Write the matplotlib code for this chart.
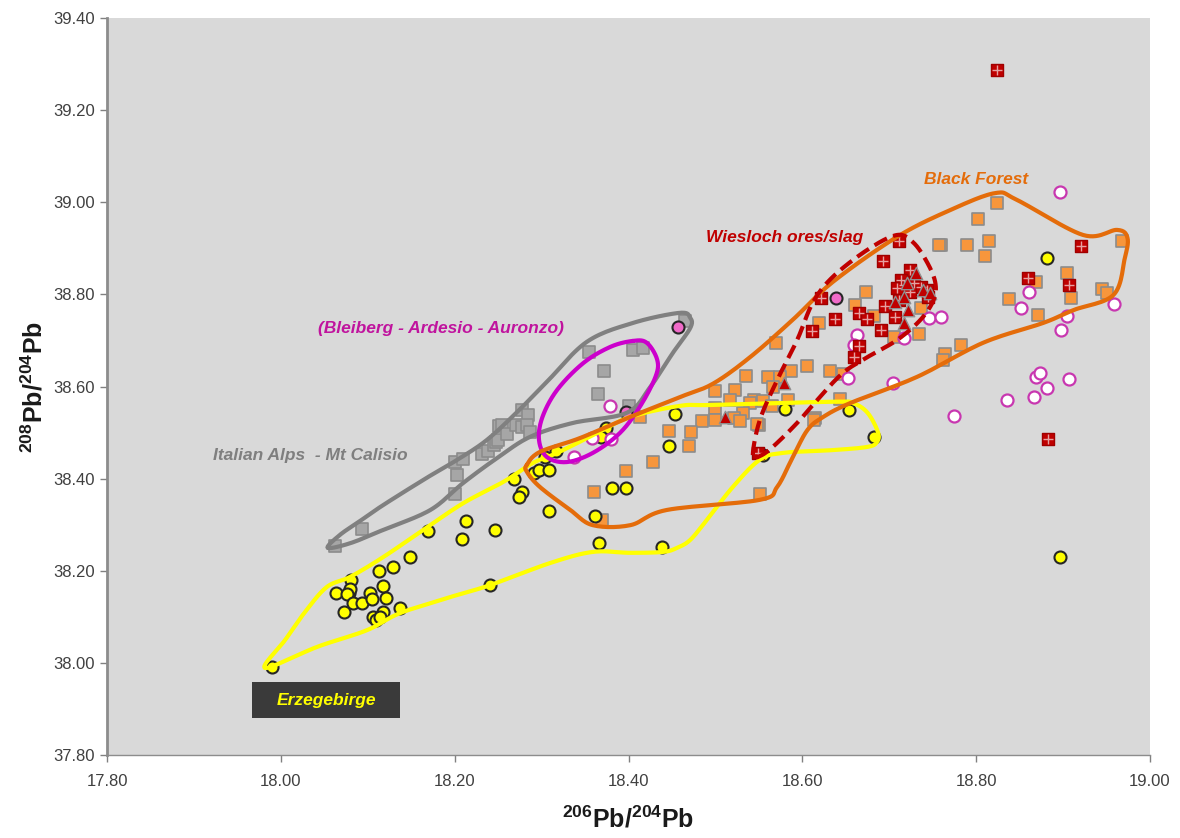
import matplotlib
matplotlib.use("Agg")
import matplotlib.pyplot as plt
import numpy as np
from matplotlib.patches import Rectangle

plt.rcParams["font.family"] = ["Liberation Sans", "DejaVu Sans"]
plt.rcParams["mathtext.fontset"] = "custom"
plt.rcParams["mathtext.rm"] = "Liberation Sans:bold"
plt.rcParams["mathtext.bf"] = "Liberation Sans:bold"

# ── data: 206Pb/204Pb (x) and 208Pb/204Pb (y) ────────────────────────────────
erz_x = [17.990, 18.081, 18.063, 18.078, 18.080, 18.076, 18.083, 18.093, 18.102, 18.105,
         18.073, 18.113, 18.129, 18.149, 18.118, 18.121, 18.118, 18.106, 18.110, 18.114,
         18.137, 18.169, 18.213, 18.208, 18.246, 18.241, 18.268, 18.277, 18.274, 18.291,
         18.297, 18.309, 18.308, 18.381, 18.397, 18.362, 18.366, 18.317, 18.304, 18.374,
         18.368, 18.447, 18.454, 18.439, 18.580, 18.654, 18.682, 18.555, 18.896, 18.882]
erz_y = [37.992, 38.180, 38.151, 38.151, 38.160, 38.149, 38.131, 38.131, 38.151, 38.139,
         38.110, 38.199, 38.209, 38.229, 38.168, 38.140, 38.111, 38.099, 38.093, 38.099,
         38.120, 38.286, 38.309, 38.270, 38.289, 38.169, 38.399, 38.370, 38.360, 38.412,
         38.419, 38.419, 38.330, 38.380, 38.380, 38.320, 38.260, 38.459, 38.448, 38.511,
         38.490, 38.471, 38.540, 38.251, 38.551, 38.548, 38.491, 38.451, 38.229, 38.878]

alps_x = [18.062, 18.093, 18.200, 18.203, 18.200, 18.210, 18.231, 18.238, 18.245, 18.248,
          18.251, 18.250, 18.254, 18.260, 18.270, 18.277, 18.284, 18.277, 18.283, 18.287,
          18.365, 18.400, 18.354, 18.372, 18.405, 18.417, 18.465]
alps_y = [38.254, 38.291, 38.366, 38.408, 38.436, 38.443, 38.453, 38.459, 38.473, 38.480,
          38.514, 38.484, 38.517, 38.498, 38.517, 38.549, 38.538, 38.513, 38.517, 38.502,
          38.584, 38.558, 38.676, 38.634, 38.679, 38.683, 38.743]

bleiberg_x = [18.379, 18.358, 18.380, 18.337, 18.896, 18.861, 18.851, 18.904, 18.897, 18.958,
              18.746, 18.759, 18.717, 18.663, 18.659, 18.653, 18.704, 18.775, 18.836, 18.867,
              18.869, 18.873, 18.881, 18.907]
bleiberg_y = [38.558, 38.488, 38.486, 38.448, 39.022, 38.806, 38.770, 38.754, 38.723, 38.779,
              38.749, 38.751, 38.705, 38.712, 38.690, 38.618, 38.607, 38.536, 38.571, 38.578,
              38.621, 38.630, 38.596, 38.617]

pink_x = [18.457, 18.639, 18.397]
pink_y = [38.729, 38.792, 38.545]

forest_x = [18.824, 18.802, 18.815, 18.789, 18.810, 18.760, 18.968, 18.905, 18.869, 18.909,
            18.838, 18.871, 18.945, 18.950, 18.782, 18.764, 18.762, 18.757, 18.673, 18.660,
            18.682, 18.619, 18.737, 18.734, 18.705, 18.570, 18.605, 18.632, 18.647, 18.587,
            18.561, 18.574, 18.566, 18.544, 18.555, 18.584, 18.643, 18.550, 18.615, 18.535,
            18.500, 18.523, 18.517, 18.540, 18.565, 18.499, 18.532, 18.521, 18.485, 18.500,
            18.528, 18.548, 18.472, 18.470, 18.613, 18.446, 18.428, 18.397, 18.360, 18.370,
            18.551, 18.413]
forest_y = [38.999, 38.963, 38.917, 38.908, 38.884, 38.908, 38.916, 38.847, 38.826, 38.792,
            38.791, 38.755, 38.812, 38.802, 38.690, 38.671, 38.658, 38.907, 38.806, 38.778,
            38.754, 38.737, 38.770, 38.713, 38.708, 38.695, 38.645, 38.634, 38.627, 38.634,
            38.620, 38.621, 38.598, 38.571, 38.569, 38.571, 38.572, 38.517, 38.531, 38.622,
            38.591, 38.592, 38.571, 38.565, 38.558, 38.553, 38.543, 38.531, 38.525, 38.527,
            38.526, 38.518, 38.501, 38.471, 38.527, 38.504, 38.437, 38.416, 38.370, 38.310,
            38.366, 38.534]

wies_x = [18.711, 18.693, 18.724, 18.713, 18.717, 18.728, 18.736, 18.743, 18.745, 18.724,
          18.709, 18.711, 18.695, 18.707, 18.691, 18.621, 18.638, 18.611, 18.665, 18.674,
          18.665, 18.659, 18.549, 18.921, 18.860, 18.907, 18.883, 18.824]
wies_y = [38.917, 38.873, 38.853, 38.831, 38.821, 38.824, 38.817, 38.810, 38.795, 38.806,
          38.813, 38.788, 38.774, 38.752, 38.723, 38.792, 38.746, 38.721, 38.759, 38.746,
          38.687, 38.665, 38.455, 38.905, 38.835, 38.821, 38.486, 39.287]

slag_x = [18.731, 18.720, 18.717, 18.722, 18.717, 18.739, 18.747, 18.707, 18.579, 18.511]
slag_y = [38.846, 38.824, 38.795, 38.766, 38.737, 38.810, 38.802, 38.784, 38.607, 38.533]

# ── field outlines (vertices, smoothed when drawn) ───────────────────────────
erz_line_x = [17.982, 18.005, 18.028, 18.053, 18.080, 18.118, 18.164, 18.210, 18.256, 18.290,
              18.318, 18.364, 18.402, 18.459, 18.497, 18.635, 18.658, 18.675, 18.687, 18.686,
              18.675, 18.635, 18.578, 18.551, 18.520, 18.490, 18.471, 18.456, 18.440, 18.402,
              18.359, 18.310, 18.241, 18.195, 18.137, 18.099, 18.042]
erz_line_y = [37.989, 38.050, 38.111, 38.165, 38.187, 38.230, 38.289, 38.347, 38.393, 38.434,
              38.456, 38.499, 38.534, 38.558, 38.560, 38.567, 38.564, 38.543, 38.501, 38.480,
              38.469, 38.462, 38.456, 38.441, 38.382, 38.310, 38.267, 38.250, 38.241, 38.239,
              38.241, 38.217, 38.169, 38.143, 38.108, 38.071, 38.035]

alps_line_x = [18.054, 18.068, 18.091, 18.118, 18.168, 18.203, 18.237, 18.272, 18.306, 18.352,
               18.405, 18.459, 18.471, 18.471, 18.451, 18.425, 18.398, 18.336, 18.287, 18.249,
               18.210, 18.172, 18.118, 18.080]
alps_line_y = [38.250, 38.278, 38.308, 38.343, 38.402, 38.441, 38.484, 38.545, 38.610, 38.697,
               38.738, 38.760, 38.749, 38.727, 38.673, 38.599, 38.543, 38.521, 38.491, 38.445,
               38.391, 38.332, 38.289, 38.260]

bleiberg_line_x = [18.405, 18.421, 18.433, 18.431, 18.413, 18.390, 18.359, 18.329, 18.306,
                   18.297, 18.301, 18.318, 18.348, 18.379]
bleiberg_line_y = [38.699, 38.695, 38.658, 38.621, 38.556, 38.499, 38.456, 38.436, 38.447,
                   38.484, 38.534, 38.593, 38.651, 38.686]

forest_line_x = [18.283, 18.298, 18.344, 18.402, 18.459, 18.497, 18.540, 18.589, 18.635, 18.709,
                 18.770, 18.822, 18.847, 18.923, 18.962, 18.974, 18.971, 18.958, 18.912, 18.877,
                 18.808, 18.732, 18.655, 18.624, 18.606, 18.589, 18.571, 18.551, 18.444, 18.402,
                 18.359, 18.333, 18.298, 18.283]
forest_line_y = [38.430, 38.458, 38.488, 38.534, 38.577, 38.606, 38.664, 38.745, 38.827, 38.925,
                 38.983, 39.020, 39.005, 38.929, 38.940, 38.923, 38.879, 38.799, 38.766, 38.738,
                 38.695, 38.621, 38.564, 38.534, 38.506, 38.447, 38.382, 38.354, 38.332, 38.299,
                 38.299, 38.332, 38.382, 38.415]

wies_line_x = [18.543, 18.551, 18.571, 18.594, 18.612, 18.635, 18.675, 18.709, 18.728, 18.744,
               18.753, 18.751, 18.736, 18.709, 18.675, 18.647, 18.620, 18.594, 18.566, 18.551]
wies_line_y = [38.451, 38.527, 38.614, 38.701, 38.782, 38.838, 38.897, 38.929, 38.912, 38.868,
               38.825, 38.788, 38.745, 38.701, 38.664, 38.630, 38.577, 38.521, 38.469, 38.449]


def smooth_closed(xs, ys, n=14):
    """Closed Catmull-Rom curve through the outline vertices."""
    pts = np.column_stack([xs, ys])
    m = len(pts)
    out = []
    for i in range(m):
        p0, p1, p2, p3 = pts[i - 1], pts[i], pts[(i + 1) % m], pts[(i + 2) % m]
        for t in np.linspace(0, 1, n, endpoint=False):
            out.append(0.5 * (2 * p1 + (-p0 + p2) * t
                              + (2 * p0 - 5 * p1 + 4 * p2 - p3) * t ** 2
                              + (-p0 + 3 * p1 - 3 * p2 + p3) * t ** 3))
    out.append(out[0])
    out = np.array(out)
    return out[:, 0], out[:, 1]


fig = plt.figure(figsize=(11.8, 8.38), dpi=100)
ax = fig.add_axes([0.0907, 0.099, 0.8839, 0.8795])
ax.set_facecolor("#d9d9d9")

ms = 75
ax.scatter(alps_x, alps_y, s=ms, marker="s", color="#a6a6a6", edgecolor="#8c8c8c", lw=1.2, zorder=3)
ax.scatter(forest_x, forest_y, s=ms, marker="s", color="#f7963c", edgecolor="#8c8c8c", lw=1.2, zorder=3)
ax.scatter(erz_x, erz_y, s=ms, marker="o", color="#ffff00", edgecolor="#262626", lw=1.5, zorder=3.2)
ax.scatter(bleiberg_x, bleiberg_y, s=ms, marker="o", color="white", edgecolor="#c837b0", lw=1.6, zorder=3.2)
ax.scatter(pink_x, pink_y, s=ms, marker="o", color="#f06ac8", edgecolor="#262626", lw=1.5, zorder=3.2)
ax.scatter(wies_x, wies_y, s=85, marker="s", color="#c00000", edgecolor="#a00000", lw=1.0, zorder=3.4)
ax.scatter(wies_x, wies_y, s=45, marker="+", color="#e6a0a0", lw=1.0, zorder=3.5)
ax.scatter(slag_x, slag_y, s=80, marker="^", color="#c00000", edgecolor="#909090", lw=1.0, zorder=3.6)

for lx, ly, col, ls in [
    (erz_line_x, erz_line_y, "#ffff00", "-"),
    (alps_line_x, alps_line_y, "#808080", "-"),
    (bleiberg_line_x, bleiberg_line_y, "#cc00cc", "-"),
    (forest_line_x, forest_line_y, "#e46c0a", "-"),
    (wies_line_x, wies_line_y, "#c00000", (0, (3.4, 1.6))),
]:
    sx, sy = smooth_closed(lx, ly)
    ax.plot(sx, sy, color=col, lw=3.0, ls=ls, solid_capstyle="round",
            solid_joinstyle="round", zorder=4)

lab = dict(fontsize=12.5, fontweight="bold", style="italic", ha="center", va="center", zorder=6)
ax.text(18.800, 39.049, "Black Forest", color="#e46c0a", **lab)
ax.text(18.580, 38.923, "Wiesloch ores/slag", color="#c00000", **lab)
ax.text(18.184, 38.727, "(Bleiberg - Ardesio - Auronzo)", color="#c0149e", **lab)
ax.text(18.034, 38.451, "Italian Alps  - Mt Calisio", color="#7f7f7f", **lab)
ax.add_patch(Rectangle((0.1391, 0.0500), 0.1419, 0.0490, transform=ax.transAxes,
                       facecolor="#3a3a3a", edgecolor="none", zorder=5))
ax.text(0.2100, 0.0745, "Erzegebirge", transform=ax.transAxes, color="#ffff00", **lab)

ax.set_xlim(17.8, 19.0)
ax.set_ylim(37.8, 39.4)
ax.set_xticks(np.arange(17.8, 19.01, 0.2))
ax.set_yticks(np.arange(37.8, 39.41, 0.2))
ax.xaxis.set_major_formatter(matplotlib.ticker.FormatStrFormatter("%.2f"))
ax.yaxis.set_major_formatter(matplotlib.ticker.FormatStrFormatter("%.2f"))
ax.tick_params(axis="both", direction="out", length=5, width=1, color="#808080",
               labelsize=12, labelcolor="#404040")
ax.tick_params(axis="x", pad=9)
ax.spines["top"].set_visible(False)
ax.spines["right"].set_visible(False)
ax.spines["left"].set_color("#8c8c8c")
ax.spines["left"].set_linewidth(2)
ax.spines["bottom"].set_color("#8c8c8c")
ax.spines["bottom"].set_linewidth(1)

ax.set_xlabel(r"$\mathbf{^{206}Pb/^{204}Pb}$", fontsize=18, labelpad=12, color="#1a1a1a")
ax.set_ylabel(r"$\mathbf{^{208}Pb/^{204}Pb}$", fontsize=18, labelpad=4, color="#1a1a1a")

fig.savefig("out.png", dpi=100)
